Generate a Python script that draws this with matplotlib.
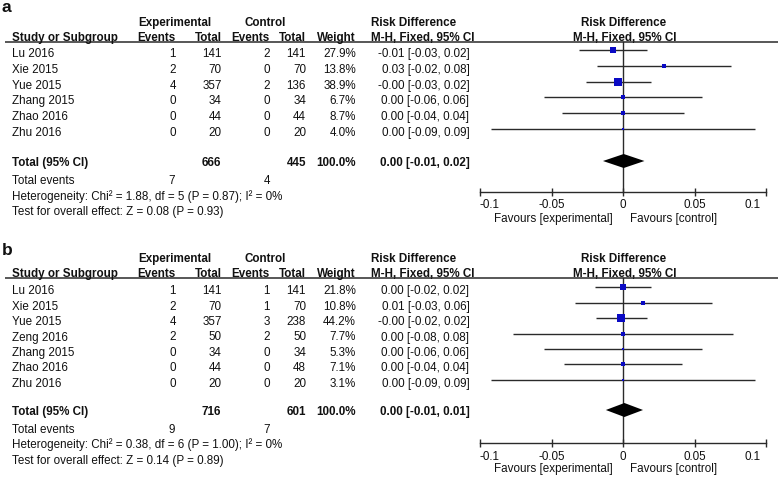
import matplotlib
matplotlib.use("Agg")
import matplotlib.pyplot as plt
import matplotlib.transforms as mtransforms
import numpy as np

plt.rcParams['font.family'] = ['Liberation Sans', 'DejaVu Sans']

# ---------------- data: panel a ----------------
studies_a = ["Lu 2016", "Xie 2015", "Yue 2015", "Zhang 2015", "Zhao 2016", "Zhu 2016"]
exp_events_a = [1, 2, 4, 0, 0, 0]
exp_total_a = [141, 70, 357, 34, 44, 20]
ctl_events_a = [2, 0, 2, 0, 0, 0]
ctl_total_a = [141, 70, 136, 34, 44, 20]
weight_a = [27.9, 13.8, 38.9, 6.7, 8.7, 4.0]
rd_a = [-0.007, 0.0286, -0.0035, 0.0, 0.0, 0.0]
lo_a = [-0.031, -0.018, -0.026, -0.055, -0.043, -0.092]
hi_a = [0.017, 0.0755, 0.0196, 0.055, 0.043, 0.092]
ci_labels_a = ["-0.01 [-0.03, 0.02]", "0.03 [-0.02, 0.08]", "-0.00 [-0.03, 0.02]",
               "0.00 [-0.06, 0.06]", "0.00 [-0.04, 0.04]", "0.00 [-0.09, 0.09]"]
total_exp_a, total_ctl_a = 666, 445
total_weight_a = "100.0%"
total_label_a = "0.00 [-0.01, 0.02]"
pooled_a = (0.0005, -0.014, 0.015)
tot_events_a = (7, 4)
het_a = "Heterogeneity: Chi² = 1.88, df = 5 (P = 0.87); I² = 0%"
test_a = "Test for overall effect: Z = 0.08 (P = 0.93)"

# ---------------- data: panel b ----------------
studies_b = ["Lu 2016", "Xie 2015", "Yue 2015", "Zeng 2016", "Zhang 2015", "Zhao 2016", "Zhu 2016"]
exp_events_b = [1, 2, 4, 2, 0, 0, 0]
exp_total_b = [141, 70, 357, 50, 34, 44, 20]
ctl_events_b = [1, 1, 3, 2, 0, 0, 0]
ctl_total_b = [141, 70, 238, 50, 34, 48, 20]
weight_b = [21.8, 10.8, 44.2, 7.7, 5.3, 7.1, 3.1]
rd_b = [0.0, 0.0143, -0.0014, 0.0, 0.0, 0.0, 0.0]
lo_b = [-0.0196, -0.0336, -0.019, -0.077, -0.055, -0.041, -0.092]
hi_b = [0.0196, 0.0622, 0.0166, 0.077, 0.055, 0.041, 0.092]
ci_labels_b = ["0.00 [-0.02, 0.02]", "0.01 [-0.03, 0.06]", "-0.00 [-0.02, 0.02]",
               "0.00 [-0.08, 0.08]", "0.00 [-0.06, 0.06]", "0.00 [-0.04, 0.04]",
               "0.00 [-0.09, 0.09]"]
total_exp_b, total_ctl_b = 716, 601
total_weight_b = "100.0%"
total_label_b = "0.00 [-0.01, 0.01]"
pooled_b = (0.001, -0.012, 0.014)
tot_events_b = (9, 7)
het_b = "Heterogeneity: Chi² = 0.38, df = 6 (P = 1.00); I² = 0%"
test_b = "Test for overall effect: Z = 0.14 (P = 0.89)"

xticks = [-0.1, -0.05, 0, 0.05, 0.1]
xtick_labels = ["-0.1", "-0.05", "0", "0.05", "0.1"]

# ---------------- layout ----------------
W, H = 778, 478
FS = 8.4
TXT = '#111111'
LINE = '#2a2a2a'
BOX = '#0a0ac4'

fig = plt.figure(figsize=(W / 100, H / 100), dpi=100)
fig.patch.set_facecolor('white')
ax_t = fig.add_axes([0, 0, 1, 1])
ax_t.set_xlim(0, W)
ax_t.set_ylim(H, 0)
ax_t.axis('off')

FX0, FX1 = 480, 766  # pixel span of forest x axis


def panel(label, lay, studies, ee, et, ce, ct, w, rd, lo, hi, cil,
          tot_e, tot_c, tot_w, tot_lab, pooled, tev, het, test):
    t = lambda x, y, s, **kw: ax_t.text(x, y, s, fontsize=kw.pop('fs', FS), color=TXT,
                                        va='baseline', **kw)
    t(2, lay['label'], label, fs=12.5, fontweight='bold')
    # header row 1
    t(175, lay['h1'], "Experimental", ha='center', fontweight='bold')
    t(265, lay['h1'], "Control", ha='center', fontweight='bold')
    t(371, lay['h1'], "Risk Difference", ha='left', fontweight='bold')
    t(624, lay['h1'], "Risk Difference", ha='center', fontweight='bold')
    # header row 2
    h2 = lay['h2']
    t(12, h2, "Study or Subgroup", ha='left', fontweight='bold')
    t(176, h2, "Events", ha='right', fontweight='bold')
    t(221.5, h2, "Total", ha='right', fontweight='bold')
    t(270, h2, "Events", ha='right', fontweight='bold')
    t(306, h2, "Total", ha='right', fontweight='bold')
    t(356, h2, "Weight", ha='right', fontweight='bold')
    t(371, h2, "M-H, Fixed, 95% CI", ha='left', fontweight='bold')
    t(625, h2, "M-H, Fixed, 95% CI", ha='center', fontweight='bold')
    ax_t.plot([5, W], [lay['line'], lay['line']], color=LINE, lw=1.1, solid_capstyle='butt')

    rows = [lay['row0'] + i * lay['dy'] for i in range(len(studies))]
    for i, y in enumerate(rows):
        t(12, y, studies[i], ha='left')
        t(176, y, str(ee[i]), ha='right')
        t(221.5, y, str(et[i]), ha='right')
        t(270, y, str(ce[i]), ha='right')
        t(306, y, str(ct[i]), ha='right')
        t(356, y, f"{w[i]:.1f}%", ha='right')
        t(469.5, y, cil[i], ha='right')
    ty = lay['total']
    t(12, ty, "Total (95% CI)", ha='left', fontweight='bold')
    t(221.5, ty, str(tot_e), ha='right', fontweight='bold')
    t(306, ty, str(tot_c), ha='right', fontweight='bold')
    t(356, ty, tot_w, ha='right', fontweight='bold')
    t(469.5, ty, tot_lab, ha='right', fontweight='bold')
    t(12, lay['events'], "Total events", ha='left')
    t(175, lay['events'], str(tev[0]), ha='right')
    t(270, lay['events'], str(tev[1]), ha='right')
    t(12, lay['het'], het, ha='left')
    t(12, lay['test'], test, ha='left')
    t(613, lay['fav'], "Favours [experimental]", ha='right')
    t(630, lay['fav'], "Favours [control]", ha='left')

    # forest plot axes
    ax = fig.add_axes([FX0 / W, 0, (FX1 - FX0) / W, 1])
    ax.set_facecolor('none')
    ax.set_xlim(-0.1, 0.1)
    ax.set_ylim(H, 0)
    for s in ['left', 'right', 'top']:
        ax.spines[s].set_visible(False)
    ax.spines['bottom'].set_position(('data', lay['axis']))
    ax.spines['bottom'].set_bounds(-0.1, 0.1)
    ax.spines['bottom'].set_color(LINE)
    ax.spines['bottom'].set_linewidth(1.0)
    ax.set_yticks([])
    ax.set_xticks(xticks)
    ax.set_xticklabels(xtick_labels, fontsize=FS, color=TXT)
    ax.tick_params(axis='x', direction='inout', length=6, width=1.0, color=LINE, pad=2.5)
    tl = ax.get_xticklabels()
    tl[0].set_ha('left')
    tl[-1].set_ha('right')
    tl[-1].set_transform(tl[-1].get_transform() +
                         mtransforms.ScaledTranslation(-5 / 100, 0, fig.dpi_scale_trans))

    ax.plot([0, 0], [lay['line'], lay['axis']], color=LINE, lw=1.0, clip_on=False)
    fy = [y - 7 for y in rows]
    ax.hlines(fy, lo, hi, color=LINE, lw=1.0, clip_on=False)
    for i, y in enumerate(fy):
        side_px = 1.3 * np.sqrt(w[i])
        ax.plot(rd[i], y, marker='s', markersize=side_px * 0.72, color=BOX,
                markeredgewidth=0, clip_on=False, zorder=3)
    c, l, h = pooled
    dyc = ty - 5
    ax.fill([l, c, h, c], [dyc, dyc - 7, dyc, dyc + 7], color='black', lw=0, clip_on=False, zorder=3)


lay_a = dict(label=12, h1=25.7, h2=40.5, line=42, row0=57.3, dy=15.7, total=166,
             events=184, het=200, test=215.5, axis=191.7, fav=221.7)
lay_b = dict(label=255, h1=262, h2=277, line=278.3, row0=294.3, dy=15.4, total=415,
             events=432.7, het=448.3, test=464.3, axis=443.3, fav=472)

panel("a", lay_a, studies_a, exp_events_a, exp_total_a, ctl_events_a, ctl_total_a,
      weight_a, rd_a, lo_a, hi_a, ci_labels_a, total_exp_a, total_ctl_a, total_weight_a,
      total_label_a, pooled_a, tot_events_a, het_a, test_a)
panel("b", lay_b, studies_b, exp_events_b, exp_total_b, ctl_events_b, ctl_total_b,
      weight_b, rd_b, lo_b, hi_b, ci_labels_b, total_exp_b, total_ctl_b, total_weight_b,
      total_label_b, pooled_b, tot_events_b, het_b, test_b)

fig.savefig("out.png", dpi=100, facecolor='white')
